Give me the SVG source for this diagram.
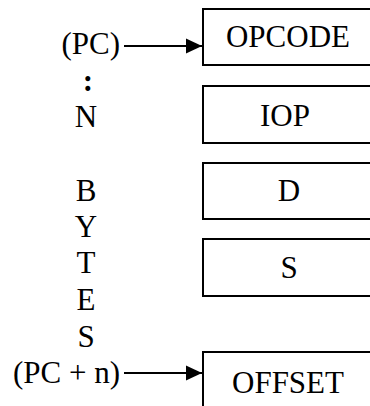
<svg xmlns="http://www.w3.org/2000/svg" width="370" height="406" viewBox="0 0 370 406">
<style>
.box{fill:#fff;stroke:#000;stroke-width:2}
.t{font-family:"Liberation Serif","Times New Roman",serif;font-size:31px;fill:#000}
.c{text-anchor:middle}
.r{text-anchor:end}
.ln{stroke:#000;stroke-width:2.2;fill:none}
</style>
<defs>
<marker id="ah" markerUnits="userSpaceOnUse" markerWidth="17" markerHeight="16" refX="16" refY="8" orient="auto">
<path d="M0,0.5 L16,8 L0,15.5 Z" fill="#000"/>
</marker>
</defs>
<g id="labels">
<text class="t r" x="120" y="54">(PC)</text>
<text class="t c" x="88" y="91" font-weight="bold">:</text>
<text class="t c" x="86" y="127">N</text>
<text class="t c" x="86" y="201">B</text>
<text class="t c" x="86" y="237">Y</text>
<text class="t c" x="86" y="273">T</text>
<text class="t c" x="86" y="310">E</text>
<text class="t c" x="86" y="347">S</text>
<text class="t r" x="120" y="383">(PC + n)</text>
</g>
<g id="opcode">
<rect class="box" x="203" y="9" width="172" height="56"/>
<text class="t c" x="288" y="47">OPCODE</text>
</g>
<g id="iop">
<rect class="box" x="203" y="86" width="172" height="57"/>
<text class="t c" x="285" y="126">IOP</text>
</g>
<g id="d">
<rect class="box" x="203" y="163" width="172" height="56"/>
<text class="t c" x="289" y="201">D</text>
</g>
<g id="s">
<rect class="box" x="203" y="239" width="172" height="57"/>
<text class="t c" x="289" y="278">S</text>
</g>
<g id="offset">
<rect class="box" x="203" y="352" width="172" height="70"/>
<text class="t c" x="288" y="393">OFFSET</text>
</g>
<g id="connectors">
<line class="ln" x1="124" y1="46" x2="202" y2="46" marker-end="url(#ah)"/>
<line class="ln" x1="124" y1="373" x2="202" y2="373" marker-end="url(#ah)"/>
</g>
</svg>
